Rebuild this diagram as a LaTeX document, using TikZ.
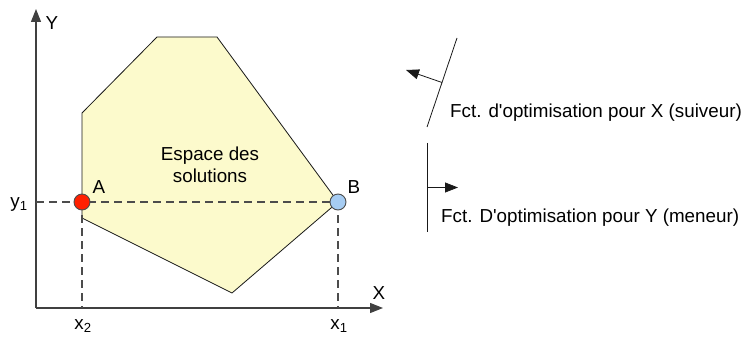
\documentclass[tikz,border=0pt]{standalone}
\usepackage{fontspec}
\setmainfont{Liberation Sans}
\usetikzlibrary{arrows.meta}
\definecolor{zone}{RGB}{252,250,204}
\definecolor{ptA}{RGB}{255,32,0}
\definecolor{ptB}{RGB}{166,204,242}
\begin{document}
\begin{tikzpicture}[x=1pt,y=-1pt,
every node/.style={font=\fontsize{18.8}{22}\selectfont, inner sep=0pt},
tip/.style={-{Triangle[length=13pt,width=10pt]}},
axe/.style={draw=black!75, line width=1.1pt},
guide/.style={draw=black!70, dash pattern=on 8pt off 5pt, line width=1.2pt},
bord/.style={draw=black!90, line width=0.8pt},
sol/.style={circle, draw=black!70, line width=0.9pt, minimum size=16pt}]
\useasboundingbox (0,0) rectangle (746,339);
% axes
\coordinate (o) at (36,308);
\coordinate (ytip) at (36,9);
\coordinate (xtip) at (383,308);
\draw[axe,tip] (o) -- (ytip);
\draw[axe,tip] (o) -- (xtip);
\node (ylab) at (52,23) {Y};
\node (xlab) at (379,293) {X};
% solution space
\coordinate (p1) at (82,113);
\coordinate (p2) at (157,37);
\coordinate (p3) at (217,37);
\coordinate (p4) at (338,202);
\coordinate (p5) at (232,293);
\coordinate (p6) at (82,218);
\draw[bord,fill=zone] (p1) -- (p2) -- (p3) -- (p4) -- (p5) -- (p6) -- cycle;
\node[align=center] (esp) at (210,165) {Espace des\\solutions};
% points A and B
\coordinate (a) at (82,202);
\coordinate (b) at (338,202);
\draw[guide] (o |- a) -- (b);
\draw[guide] (a) -- (a |- o);
\draw[guide] (b) -- (b |- o);
\node[sol,fill=ptA] (ptA) at (a) {};
\node[sol,fill=ptB] (ptB) at (b) {};
\node (la) at (99,187) {A};
\node (lb) at (354,187) {B};
\node (y1) at (19,204) {y\textsubscript{1}};
\node (x2) at (83,326) {x\textsubscript{2}};
\node (x1) at (339,326) {x\textsubscript{1}};
% objective functions
\coordinate (fa) at (457,38);
\coordinate (fb) at (427,127);
\coordinate (fx) at (406,70);
\draw[bord] (fa) -- coordinate (fm) (fb);
\draw[bord,tip] (fm) -- (fx);
\node[anchor=west] (tx) at (450,113) {Fct. d\textquotesingle optimisation pour X (suiveur)};
\coordinate (ga) at (427,143);
\coordinate (gb) at (427,232);
\coordinate (gx) at (458,187.5);
\draw[bord] (ga) -- coordinate (gm) (gb);
\draw[bord,tip] (gm) -- (gx);
\node[anchor=west] (ty) at (441,218) {Fct. D\textquotesingle optimisation pour Y (meneur)};
\end{tikzpicture}
\end{document}
